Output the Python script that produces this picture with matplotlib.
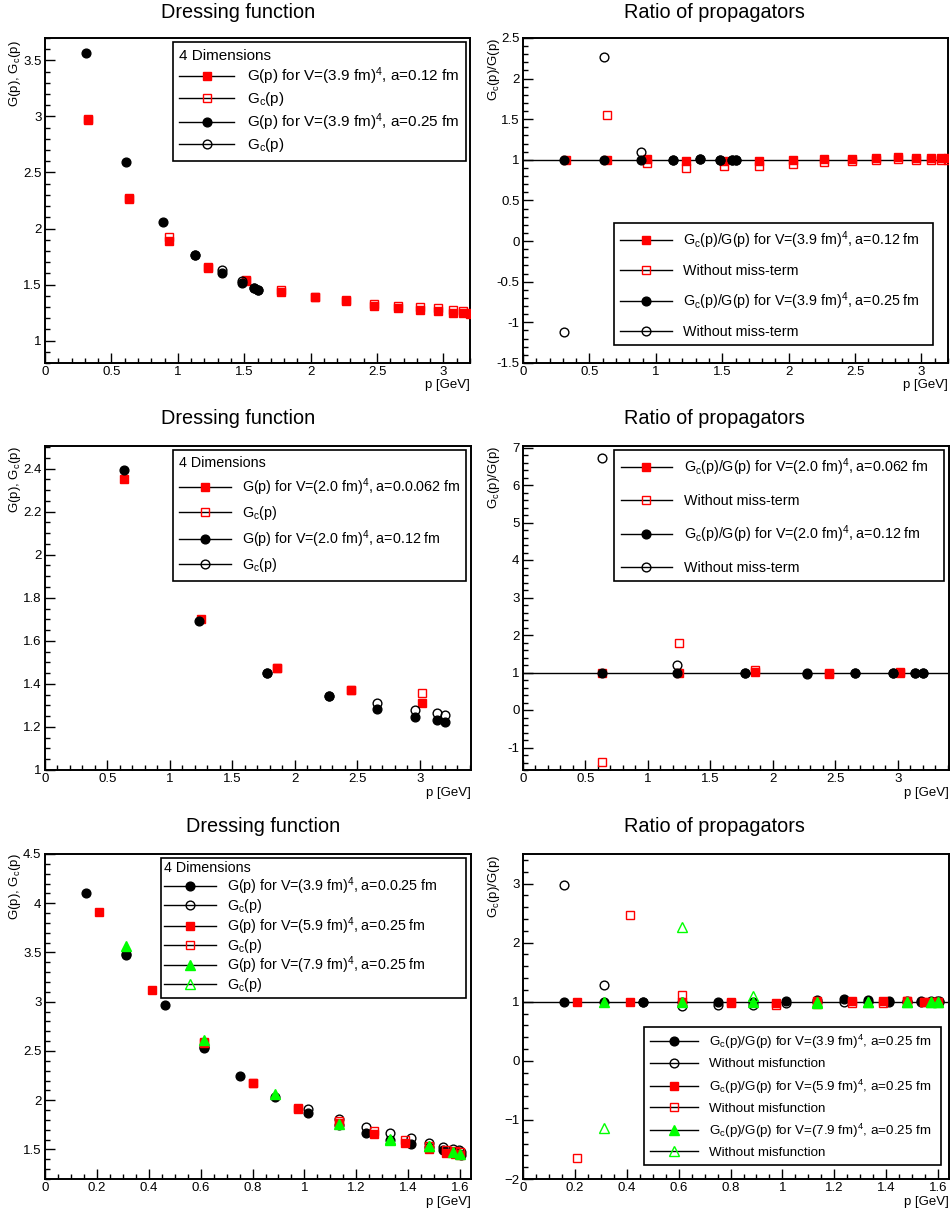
# Gluon / ghost propagator comparison: dressing functions and ratios
import numpy as np
import matplotlib
matplotlib.use("Agg")
import matplotlib.pyplot as plt
from matplotlib.lines import Line2D
from matplotlib.ticker import MultipleLocator, FuncFormatter

plt.rcParams['font.family'] = ['Liberation Sans', 'DejaVu Sans']
plt.rcParams['mathtext.fontset'] = 'custom'
plt.rcParams['mathtext.rm'] = 'Liberation Sans'
plt.rcParams['mathtext.it'] = 'Liberation Sans:italic'
plt.rcParams['mathtext.bf'] = 'Liberation Sans:bold'

RED = '#ff0000'
GREEN = '#00ff00'
BLACK = '#000000'

# --- DATA: top row, V=(3.9 fm)^4 ---
p1_x_a012 = [0.32, 0.63, 0.93, 1.23, 1.51, 1.78, 2.03, 2.27, 2.48, 2.66, 2.82, 2.96, 3.07, 3.15, 3.20]
p1_G_a012 = [2.98, 2.27, 1.89, 1.65, 1.53, 1.43, 1.39, 1.35, 1.31, 1.29, 1.27, 1.26, 1.25, 1.245, 1.24]
p1_Gc_a012 = [2.97, 2.26, 1.92, 1.66, 1.54, 1.45, 1.39, 1.36, 1.33, 1.31, 1.30, 1.29, 1.27, 1.265, 1.25]
p1_x_a025 = [0.31, 0.61, 0.89, 1.13, 1.33, 1.48, 1.57, 1.60]
p1_G_a025 = [3.57, 2.59, 2.06, 1.76, 1.60, 1.51, 1.47, 1.45]
p1_x_a025c = [1.13, 1.33, 1.48, 1.57, 1.60]
p1_Gc_a025 = [1.76, 1.63, 1.53, 1.47, 1.45]

p2_R_a012 = [1.0, 1.0, 1.01, 0.99, 0.99, 0.99, 1.0, 1.01, 1.01, 1.02, 1.03, 1.02, 1.02, 1.02, 1.02]
p2_x_a012o = [0.63, 0.93, 1.23, 1.51, 1.78, 2.03, 2.27, 2.48, 2.66, 2.82, 2.96, 3.07, 3.15, 3.20]
p2_Rn_a012 = [1.55, 0.96, 0.905, 0.925, 0.925, 0.95, 0.97, 0.98, 1.0, 1.01, 1.0, 1.0, 1.0, 1.0]
p2_R_a025 = [1.0, 1.0, 1.0, 1.0, 1.01, 1.0, 1.0, 1.0]
p2_Rn_a025 = [-1.12, 2.27, 1.10, 1.0, 1.01, 1.0, 1.0, 1.0]

# --- DATA: middle row, V=(2.0 fm)^4 ---
p3_x_a062 = [0.63, 1.25, 1.86, 2.45, 3.02]
p3_G_a062 = [2.35, 1.70, 1.475, 1.372, 1.31]
p3_x_a062c = [1.86, 2.45, 3.02]
p3_Gc_a062 = [1.475, 1.372, 1.356]
p3_x_a012 = [0.63, 1.23, 1.78, 2.27, 2.66, 2.96, 3.14, 3.20]
p3_G_a012 = [2.392, 1.69, 1.45, 1.344, 1.284, 1.248, 1.23, 1.225]
p3_x_a012c = [1.78, 2.27, 2.66, 2.96, 3.14, 3.20]
p3_Gc_a012 = [1.45, 1.344, 1.31, 1.28, 1.264, 1.255]

p4_R_a062 = [1.0, 1.0, 1.01, 0.99, 1.02]
p4_Rn_a062 = [-1.39, 1.78, 1.07, 0.96, 1.0]
p4_R_a012 = [1.0, 1.0, 0.98, 0.98, 1.0, 1.0, 1.0, 1.0]
p4_Rn_a012 = [6.73, 1.2, 0.98, 0.96, 1.0, 0.99, 1.0, 1.0]

# --- DATA: bottom row, a=0.25 fm, three volumes ---
p5_x_39 = [0.157, 0.312, 0.464, 0.611, 0.752, 0.888, 1.015, 1.133, 1.236, 1.33, 1.41, 1.479, 1.533, 1.571, 1.594, 1.603]
p5_G_39 = [4.10, 3.47, 2.965, 2.53, 2.244, 2.03, 1.87, 1.747, 1.663, 1.595, 1.558, 1.524, 1.49, 1.467, 1.456, 1.446]
p5_x_39c = [0.312, 0.611, 1.015, 1.133, 1.236, 1.33, 1.41, 1.479, 1.533, 1.571, 1.594, 1.603]
p5_Gc_39 = [3.485, 2.54, 1.906, 1.812, 1.73, 1.67, 1.62, 1.567, 1.527, 1.50, 1.49, 1.477]
p5_x_59 = [0.208, 0.414, 0.613, 0.803, 0.974, 1.133, 1.27, 1.386, 1.479, 1.546, 1.58, 1.60]
p5_G_59 = [3.908, 3.117, 2.576, 2.17, 1.913, 1.764, 1.652, 1.568, 1.50, 1.467, 1.456, 1.446]
p5_x_59c = [0.613, 0.803, 0.974, 1.133, 1.27, 1.386, 1.479, 1.546, 1.58, 1.60]
p5_Gc_59 = [2.59, 2.177, 1.916, 1.79, 1.686, 1.60, 1.53, 1.49, 1.48, 1.47]
p5_x_79 = [0.312, 0.613, 0.888, 1.133, 1.33, 1.479, 1.571, 1.60]
p5_G_79 = [3.563, 2.61, 2.068, 1.754, 1.60, 1.534, 1.47, 1.45]
p5_x_79c = [1.33, 1.479]
p5_Gc_79 = [1.61, 1.54]

p6_R_39 = [1.0, 1.0, 1.0, 1.0, 1.0, 1.0, 1.02, 1.03, 1.04, 1.03, 1.02, 1.02, 1.02, 1.01, 1.01, 1.01]
p6_Rn_39 = [2.98, 1.29, 1.0, 0.93, 0.94, 0.95, 0.97, 0.99, 1.0, 1.0, 1.0, 1.0, 1.0, 1.0, 1.0, 1.0]
p6_R_59 = [1.0, 1.0, 1.0, 0.99, 0.98, 1.01, 1.02, 1.02, 1.02, 1.0, 1.0, 1.0]
p6_Rn_59 = [-1.64, 2.46, 1.12, 0.97, 0.95, 0.96, 0.98, 0.98, 1.02, 1.0, 1.0, 1.0]
p6_R_79 = [1.0, 1.0, 1.0, 1.0, 1.0, 1.0, 1.0, 1.0]
p6_Rn_79 = [-1.14, 2.27, 1.09, 0.97, 1.0, 1.0, 1.0, 1.0]

# --- FIGURE ---
W, H = 952, 1215
fig = plt.figure(figsize=(W / 100, H / 100), dpi=100)
MS = 6.3


def add_ax(l, r, t, b):
    return fig.add_axes([l / W, 1 - b / H, (r - l) / W, (b - t) / H])


def ftext(x, y, s, **kw):
    fig.text(x / W, 1 - y / H, s, **kw)


def style(ax, xlim, ylim, xmaj, xmin, ymaj, ymin, minus='-'):
    ax.set_xlim(*xlim)
    ax.set_ylim(*ylim)
    ax.xaxis.set_major_locator(MultipleLocator(xmaj))
    ax.xaxis.set_minor_locator(MultipleLocator(xmin))
    ax.yaxis.set_major_locator(MultipleLocator(ymaj))
    ax.yaxis.set_minor_locator(MultipleLocator(ymin))

    def f(v, pos):
        if abs(v) < 1e-9:
            v = 0
        return ('%g' % round(v, 6)).replace('-', minus)
    ax.xaxis.set_major_formatter(FuncFormatter(f))
    ax.yaxis.set_major_formatter(FuncFormatter(f))
    ax.tick_params(which='both', direction='in', top=False, right=False, labelsize=9.5, width=1.0)
    ax.tick_params(which='major', length=7.5, pad=2.5)
    ax.tick_params(which='minor', length=3.8)
    for sp in ax.spines.values():
        sp.set_linewidth(1.4)


def pts(ax, x, y, marker, color, filled, ms=MS):
    ax.plot(x, y, ls='none', marker=marker, ms=ms, mfc=color if filled else 'none',
            mec=color, mew=1.0, zorder=3)


def handle(marker, color, filled, ms=MS):
    return Line2D([], [], color='k', lw=1, marker=marker, ms=ms,
                  mfc=color if filled else 'none', mec=color, mew=1.0)


def legend(ax, handles, labels, x0, x1, ytop, fs, spacing, title=None, pad=0.45):
    leg = ax.legend(handles, labels, loc='upper left', bbox_to_anchor=(x0, ytop - 0.5, x1 - x0, 0.5),
                    mode='expand', fontsize=fs, title=title, title_fontsize=fs, alignment='left',
                    frameon=True, fancybox=False, shadow=False, framealpha=1, edgecolor='k',
                    borderpad=pad, labelspacing=spacing, handlelength=3.6, handletextpad=0.8,
                    borderaxespad=0)
    leg.get_frame().set_linewidth(1.2)
    leg.set_zorder(5)


GL = 'G(p), G$_{\\rm c}$(p)'
RL = 'G$_{\\rm c}$(p)/G(p)'
GCL = 'G$_{\\rm c}$(p)'

# ---- panel 1 ----
ax1 = add_ax(45, 470, 38, 363)
style(ax1, (0, 3.2), (0.8, 3.7), 0.5, 0.1, 0.5, 0.1)
pts(ax1, p1_x_a012, p1_G_a012, 's', RED, True)
pts(ax1, p1_x_a012, p1_Gc_a012, 's', RED, False)
pts(ax1, p1_x_a025, p1_G_a025, 'o', BLACK, True)
pts(ax1, p1_x_a025c, p1_Gc_a025, 'o', BLACK, False)
legend(ax1, [handle('s', RED, True), handle('s', RED, False), handle('o', BLACK, True), handle('o', BLACK, False)],
       ['G(p) for V=(3.9 fm)$^{4}$, a=0.12 fm', GCL, 'G(p) for V=(3.9 fm)$^{4}$, a=0.25 fm', GCL],
       0.30, 0.99, 0.988, 11, 0.2, title='4 Dimensions')
ftext(238, 12, 'Dressing function', fontsize=14.3, ha='center', va='center')
ftext(15, 40, GL, fontsize=9.5, rotation=90, ha='center', va='top')
ftext(470, 385, 'p [GeV]', fontsize=9.5, ha='right', va='center')

# ---- panel 2 ----
ax2 = add_ax(523, 948, 38, 363)
style(ax2, (0, 3.2), (-1.5, 2.5), 0.5, 0.1, 0.5, 0.1)
ax2.axhline(1.0, color='k', lw=1.0, zorder=2)
pts(ax2, p1_x_a012, p2_R_a012, 's', RED, True)
pts(ax2, p2_x_a012o, p2_Rn_a012, 's', RED, False)
pts(ax2, p1_x_a025, p2_R_a025, 'o', BLACK, True)
pts(ax2, p1_x_a025, p2_Rn_a025, 'o', BLACK, False)
legend(ax2, [handle('s', RED, True), handle('s', RED, False), handle('o', BLACK, True), handle('o', BLACK, False)],
       [RL + ' for V=(3.9 fm)$^{4}$, a=0.12 fm', 'Without miss-term',
        RL + ' for V=(3.9 fm)$^{4}$, a=0.25 fm', 'Without miss-term'],
       0.214, 0.965, 0.43, 10.3, 0.88)
ftext(714, 12, 'Ratio of propagators', fontsize=14.3, ha='center', va='center')
ftext(494, 38, RL, fontsize=9.5, rotation=90, ha='center', va='top')
ftext(948, 385, 'p [GeV]', fontsize=9.5, ha='right', va='center')

# ---- panel 3 ----
ax3 = add_ax(45, 471, 446, 770)
style(ax3, (0, 3.41), (1.0, 2.505), 0.5, 0.1, 0.2, 0.05)
pts(ax3, p3_x_a062, p3_G_a062, 's', RED, True)
pts(ax3, p3_x_a062c, p3_Gc_a062, 's', RED, False)
pts(ax3, p3_x_a012, p3_G_a012, 'o', BLACK, True)
pts(ax3, p3_x_a012c, p3_Gc_a012, 'o', BLACK, False)
legend(ax3, [handle('s', RED, True), handle('s', RED, False), handle('o', BLACK, True), handle('o', BLACK, False)],
       ['G(p) for V=(2.0 fm)$^{4}$, a=0.0.062 fm', GCL, 'G(p) for V=(2.0 fm)$^{4}$, a=0.12 fm', GCL],
       0.30, 0.988, 0.988, 10.3, 0.43, title='4 Dimensions')
ftext(238, 419, 'Dressing function', fontsize=14.3, ha='center', va='center')
ftext(15, 446, GL, fontsize=9.5, rotation=90, ha='center', va='top')
ftext(471, 793, 'p [GeV]', fontsize=9.5, ha='right', va='center')

# ---- panel 4 ----
ax4 = add_ax(523, 949, 446, 770)
style(ax4, (0, 3.41), (-1.6, 7.04), 0.5, 0.1, 1, 0.2)
ax4.axhline(1.0, color='k', lw=1.0, zorder=2)
pts(ax4, p3_x_a062, p4_R_a062, 's', RED, True)
pts(ax4, p3_x_a062, p4_Rn_a062, 's', RED, False)
pts(ax4, p3_x_a012, p4_R_a012, 'o', BLACK, True)
pts(ax4, p3_x_a012, p4_Rn_a012, 'o', BLACK, False)
legend(ax4, [handle('s', RED, True), handle('s', RED, False), handle('o', BLACK, True), handle('o', BLACK, False)],
       [RL + ' for V=(2.0 fm)$^{4}$, a=0.062 fm', 'Without miss-term',
        RL + ' for V=(2.0 fm)$^{4}$, a=0.12 fm', 'Without miss-term'],
       0.214, 0.988, 0.988, 10.3, 1.1)
ftext(714, 419, 'Ratio of propagators', fontsize=14.3, ha='center', va='center')
ftext(494, 446, RL, fontsize=9.5, rotation=90, ha='center', va='top')
ftext(949, 793, 'p [GeV]', fontsize=9.5, ha='right', va='center')

# ---- panel 5 ----
ax5 = add_ax(45, 471, 854, 1179)
style(ax5, (0, 1.642), (1.2, 4.5), 0.2, 0.05, 0.5, 0.1)
pts(ax5, p5_x_39, p5_G_39, 'o', BLACK, True)
pts(ax5, p5_x_39c, p5_Gc_39, 'o', BLACK, False)
pts(ax5, p5_x_59, p5_G_59, 's', RED, True)
pts(ax5, p5_x_59c, p5_Gc_59, 's', RED, False)
pts(ax5, p5_x_79, p5_G_79, '^', GREEN, True, ms=7)
pts(ax5, p5_x_79c, p5_Gc_79, '^', GREEN, False, ms=7)
legend(ax5, [handle('o', BLACK, True), handle('o', BLACK, False), handle('s', RED, True), handle('s', RED, False),
             handle('^', GREEN, True, 7), handle('^', GREEN, False, 7)],
       ['G(p) for V=(3.9 fm)$^{4}$, a=0.0.25 fm', GCL, 'G(p) for V=(5.9 fm)$^{4}$, a=0.25 fm', GCL,
        'G(p) for V=(7.9 fm)$^{4}$, a=0.25 fm', GCL],
       0.272, 0.988, 0.988, 10.3, 0.0, title='4 Dimensions', pad=0.25)
ftext(263, 827, 'Dressing function', fontsize=14.3, ha='center', va='center')
ftext(15, 853, GL, fontsize=9.5, rotation=90, ha='center', va='top')
ftext(471, 1202, 'p [GeV]', fontsize=9.5, ha='right', va='center')

# ---- panel 6 ----
ax6 = add_ax(523, 949, 854, 1179)
style(ax6, (0, 1.642), (-2, 3.5), 0.2, 0.05, 1, 0.2, minus='\u2212')
ax6.axhline(1.0, color='k', lw=1.0, zorder=2)
pts(ax6, p5_x_39, p6_R_39, 'o', BLACK, True)
pts(ax6, p5_x_39, p6_Rn_39, 'o', BLACK, False)
pts(ax6, p5_x_59, p6_R_59, 's', RED, True)
pts(ax6, p5_x_59, p6_Rn_59, 's', RED, False)
pts(ax6, p5_x_79, p6_R_79, '^', GREEN, True, ms=7)
pts(ax6, p5_x_79, p6_Rn_79, '^', GREEN, False, ms=7)
legend(ax6, [handle('o', BLACK, True), handle('o', BLACK, False), handle('s', RED, True), handle('s', RED, False),
             handle('^', GREEN, True, 7), handle('^', GREEN, False, 7)],
       [RL + ' for V=(3.9 fm)$^{4}$, a=0.25 fm', 'Without misfunction',
        RL + ' for V=(5.9 fm)$^{4}$, a=0.25 fm', 'Without misfunction',
        RL + ' for V=(7.9 fm)$^{4}$, a=0.25 fm', 'Without misfunction'],
       0.284, 0.981, 0.468, 9.6, 0.52)
ftext(714, 827, 'Ratio of propagators', fontsize=14.3, ha='center', va='center')
ftext(494, 855, RL, fontsize=9.5, rotation=90, ha='center', va='top')
ftext(949, 1202, 'p [GeV]', fontsize=9.5, ha='right', va='center')

fig.savefig('out.png', dpi=100)
